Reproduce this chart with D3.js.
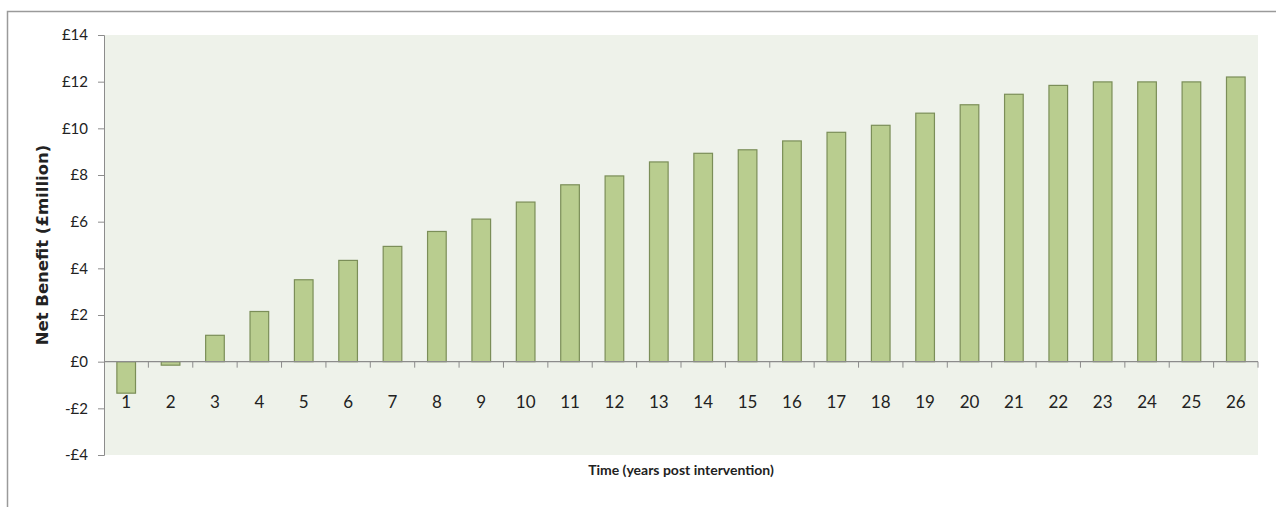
<!DOCTYPE html>
<html>
<head>
<meta charset="utf-8">
<script src="https://cdn.jsdelivr.net/npm/d3@7"></script>
<style>
  html, body { margin: 0; padding: 0; background: #fff; }
  svg { display: block; }
</style>
</head>
<body>
<svg id="chart" width="1276" height="507"></svg>
<script>
// Years after the intervention and the cumulative net benefit (£ million)
const years = ["1","2","3","4","5","6","7","8","9","10","11","12","13","14","15","16","17","18","19","20","21","22","23","24","25","26"];
const netBenefit = [-1.35, -0.15, 1.13, 2.15, 3.51, 4.34, 4.94, 5.58, 6.11, 6.84, 7.58, 7.96, 8.56, 8.93, 9.08, 9.46, 9.83, 10.13, 10.65, 11.01, 11.46, 11.84, 11.99, 11.99, 11.99, 12.2];
const yTicks = [-4, -2, 0, 2, 4, 6, 8, 10, 12, 14];

const svg = d3.select("#chart");
const W = 1276, H = 507;
const plot = { left: 104, right: 1258, top: 35, bottom: 455 };

// outer chart frame
svg.append("rect")
  .attr("x", 7.5).attr("y", 11.5)
  .attr("width", W + 10).attr("height", H + 10)
  .attr("fill", "#fff").attr("stroke", "#9a9a9a").attr("stroke-width", 1.5);

// plot area background
svg.append("rect")
  .attr("x", plot.left).attr("y", plot.top)
  .attr("width", plot.right - plot.left).attr("height", plot.bottom - plot.top)
  .attr("fill", "#eef2ea");

const x = d3.scaleBand().domain(years).range([plot.left, plot.right]).paddingInner(0.58).paddingOuter(0.29);
const xEdges = d3.scaleLinear().domain([0, years.length]).range([plot.left, plot.right]);
const y = d3.scaleLinear().domain([-4, 14]).range([plot.bottom, plot.top]);

const labelFont = "Lato, 'Open Sans', sans-serif";

// bars
svg.append("g").selectAll("rect")
  .data(netBenefit)
  .join("rect")
  .attr("x", (d, i) => x(years[i]))
  .attr("width", x.bandwidth())
  .attr("y", d => y(Math.max(0, d)))
  .attr("height", d => Math.abs(y(d) - y(0)))
  .attr("fill", "#b9cd8f")
  .attr("stroke", "#7b8e58")
  .attr("stroke-width", 1.2);

// y axis
const yAxis = svg.append("g")
  .attr("transform", `translate(${plot.left},0)`)
  .call(d3.axisLeft(y).tickValues(yTicks).tickSize(6).tickPadding(10)
    .tickFormat(d => (d < 0 ? "-£" : "£") + Math.abs(d)));
yAxis.select(".domain").attr("stroke", "#8c8c8c");
yAxis.selectAll(".tick line").attr("stroke", "#8c8c8c");
yAxis.selectAll("text")
  .attr("font-family", labelFont).attr("font-size", 15).attr("fill", "#222");

// x axis on the zero line, ticks between categories
const xAxisG = svg.append("g").attr("transform", `translate(0,${y(0)})`);
xAxisG.append("line")
  .attr("x1", plot.left).attr("x2", plot.right)
  .attr("stroke", "#8c8c8c").attr("stroke-width", 1.2);
xAxisG.selectAll("line.tk")
  .data(d3.range(1, years.length + 1))
  .join("line").attr("class", "tk")
  .attr("x1", d => xEdges(d)).attr("x2", d => xEdges(d))
  .attr("y1", 0).attr("y2", 6)
  .attr("stroke", "#8c8c8c");
xAxisG.selectAll("text")
  .data(years)
  .join("text")
  .attr("x", d => x(d) + x.bandwidth() / 2)
  .attr("y", 46)
  .attr("text-anchor", "middle")
  .attr("font-family", labelFont).attr("font-size", 17).attr("fill", "#222")
  .text(d => d);

// axis titles
svg.append("text")
  .attr("transform", `translate(48,${(plot.top + plot.bottom) / 2}) rotate(-90)`)
  .attr("text-anchor", "middle")
  .attr("font-family", "'DejaVu Sans', Verdana, sans-serif")
  .attr("font-weight", "bold").attr("font-size", 16.5).attr("fill", "#222")
  .text("Net Benefit (£million)");

svg.append("text")
  .attr("x", (plot.left + plot.right) / 2)
  .attr("y", 475)
  .attr("text-anchor", "middle")
  .attr("font-family", labelFont)
  .attr("font-weight", "bold").attr("font-size", 14).attr("fill", "#222")
  .text("Time (years post intervention)");
</script>
</body>
</html>
